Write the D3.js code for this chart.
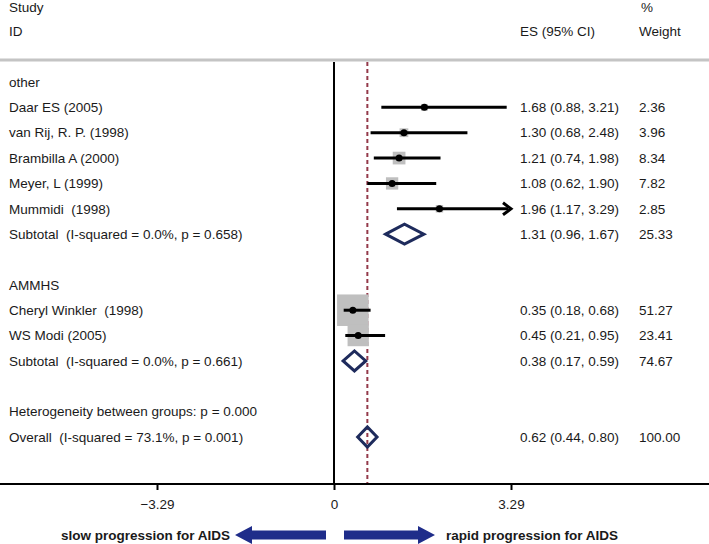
<!DOCTYPE html>
<html>
<head>
<meta charset="utf-8">
<script src="https://cdn.jsdelivr.net/npm/d3@7"></script>
<style>
  body { margin: 0; background: #fff; }
  text { font-family: "Liberation Sans", Arial, sans-serif; fill: #1a1a1a; white-space: pre; }
</style>
</head>
<body>
<script>
// rows of the forest plot, top to bottom (blank rows included)
var labels = ["other", "Daar ES (2005)", "van Rij, R. P. (1998)", "Brambilla A (2000)", "Meyer, L (1999)",
  "Mummidi  (1998)", "Subtotal  (I-squared = 0.0%, p = 0.658)", "",
  "AMMHS", "Cheryl Winkler  (1998)", "WS Modi (2005)", "Subtotal  (I-squared = 0.0%, p = 0.661)", "",
  "Heterogeneity between groups: p = 0.000", "Overall  (I-squared = 73.1%, p = 0.001)"];
var kinds = ["head", "study", "study", "study", "study", "study", "sub", "",
  "head", "study", "study", "sub", "", "head", "sub"];
var es = [null, 1.68, 1.30, 1.21, 1.08, 1.96, 1.31, null, null, 0.35, 0.45, 0.38, null, null, 0.62];
var lo = [null, 0.88, 0.68, 0.74, 0.62, 1.17, 0.96, null, null, 0.18, 0.21, 0.17, null, null, 0.44];
var hi = [null, 3.21, 2.48, 1.98, 1.90, 3.29, 1.67, null, null, 0.68, 0.95, 0.59, null, null, 0.80];
var weights = [null, 2.36, 3.96, 8.34, 7.82, 2.85, 25.33, null, null, 51.27, 23.41, 74.67, null, null, 100.00];
var xTicks = [-3.29, 0, 3.29];
var overall = 0.62;

var W = 709, H = 544;
var svg = d3.select("body").append("svg")
  .attr("width", W)
  .attr("height", H);

var x = d3.scaleLinear().domain([-3.29, 3.29]).range([157, 511]);
var y = d3.scaleLinear().domain([0, 14]).range([82, 437]);
var axisY = 484;
var fs = 13.5;
var f2 = d3.format(".2f");

// header
var hdr = [
  { t: "Study", x: 9, y: 7 }, { t: "ID", x: 9, y: 31 },
  { t: "ES (95% CI)", x: 520, y: 31 },
  { t: "%", x: 641, y: 7 }, { t: "Weight", x: 639, y: 31 }
];
svg.selectAll(".hdr").data(hdr).enter().append("text")
  .attr("class", "hdr")
  .attr("x", d => d.x).attr("y", d => d.y).attr("dy", "0.35em")
  .attr("font-size", fs)
  .text(d => d.t);

svg.append("line")
  .attr("x1", 0).attr("x2", W).attr("y1", 60).attr("y2", 60)
  .attr("stroke", "#c4c4c4").attr("stroke-width", 3);

// null line and overall line
svg.append("line")
  .attr("x1", x(0)).attr("x2", x(0)).attr("y1", 62).attr("y2", axisY)
  .attr("stroke", "#000").attr("stroke-width", 2);
svg.append("line")
  .attr("x1", x(overall)).attr("x2", x(overall)).attr("y1", 62).attr("y2", axisY)
  .attr("stroke", "#93394a").attr("stroke-width", 2)
  .attr("stroke-dasharray", "4,3");

var rows = labels.map((l, i) => ({ i: i, label: l, kind: kinds[i], es: es[i], lo: lo[i], hi: hi[i], w: weights[i] }));

// labels
svg.selectAll(".lab").data(rows.filter(d => d.label)).enter().append("text")
  .attr("class", "lab")
  .attr("x", 9).attr("y", d => y(d.i)).attr("dy", "0.35em")
  .attr("font-size", fs)
  .text(d => d.label);

var vals = rows.filter(d => d.es != null);
svg.selectAll(".es").data(vals).enter().append("text")
  .attr("x", 520).attr("y", d => y(d.i)).attr("dy", "0.35em")
  .attr("font-size", fs)
  .text(d => f2(d.es) + " (" + f2(d.lo) + ", " + f2(d.hi) + ")");
svg.selectAll(".wt").data(vals).enter().append("text")
  .attr("x", 639).attr("y", d => y(d.i)).attr("dy", "0.35em")
  .attr("font-size", fs)
  .text(d => f2(d.w));

// studies: weight boxes, CI lines, points
var studies = rows.filter(d => d.kind == "study");
var side = d => 4.4 * Math.sqrt(d.w);
svg.selectAll(".box").data(studies).enter().append("rect")
  .attr("x", d => x(d.es) - side(d) / 2)
  .attr("y", d => y(d.i) - side(d) / 2)
  .attr("width", side).attr("height", side)
  .attr("fill", "#bfbfbf");

svg.selectAll(".ci").data(studies).enter().append("line")
  .attr("x1", d => x(d.lo))
  .attr("x2", d => d.hi >= 3.29 ? x(3.29) - 3 : x(d.hi))
  .attr("y1", d => y(d.i)).attr("y2", d => y(d.i))
  .attr("stroke", "#000").attr("stroke-width", 3);

svg.selectAll(".arr").data(studies.filter(d => d.hi >= 3.29)).enter().append("path")
  .attr("d", d => {
    var tx = x(3.29), ty = y(d.i);
    return "M" + (tx - 8) + "," + (ty - 6) + "L" + tx + "," + ty + "L" + (tx - 8) + "," + (ty + 6);
  })
  .attr("fill", "none").attr("stroke", "#000").attr("stroke-width", 3);

svg.selectAll(".pt").data(studies).enter().append("circle")
  .attr("cx", d => x(d.es)).attr("cy", d => y(d.i))
  .attr("r", 3.5).attr("fill", "#000");

// pooled diamonds
var subs = rows.filter(d => d.kind == "sub");
svg.selectAll(".dia").data(subs).enter().append("path")
  .attr("d", d => {
    var cy = y(d.i), h = 10;
    return "M" + x(d.lo) + "," + cy + "L" + x(d.es) + "," + (cy - h) +
      "L" + x(d.hi) + "," + cy + "L" + x(d.es) + "," + (cy + h) + "Z";
  })
  .attr("fill", "none").attr("stroke", "#1e2b5c").attr("stroke-width", 3)
  .attr("stroke-linejoin", "miter");

// x axis
svg.append("line")
  .attr("x1", 0).attr("x2", W).attr("y1", axisY).attr("y2", axisY)
  .attr("stroke", "#000").attr("stroke-width", 2);
var ax = svg.append("g")
  .attr("transform", `translate(0,${axisY})`)
  .call(d3.axisBottom(x).tickValues(xTicks).tickSize(6).tickPadding(9)
    .tickFormat(d => d == 0 ? "0" : f2(d)));
ax.select(".domain").remove();
ax.selectAll(".tick line").attr("stroke", "#000").attr("stroke-width", 2);
ax.selectAll(".tick text")
  .attr("font-size", fs).attr("fill", "#1a1a1a")
  .style("font-family", '"Liberation Sans", Arial, sans-serif');

// direction arrows
var ay = 535;
function blockArrow(x0, x1) {
  var dir = x1 > x0 ? 1 : -1, hl = 17, bw = 4.5, hw = 9;
  var xb = x1 - dir * hl;
  return "M" + x0 + "," + (ay - bw) + "L" + xb + "," + (ay - bw) + "L" + xb + "," + (ay - hw) +
    "L" + x1 + "," + ay + "L" + xb + "," + (ay + hw) + "L" + xb + "," + (ay + bw) +
    "L" + x0 + "," + (ay + bw) + "Z";
}
svg.append("path").attr("d", blockArrow(326, 235)).attr("fill", "#1f2d8a");
svg.append("path").attr("d", blockArrow(344, 435)).attr("fill", "#1f2d8a");
svg.append("text")
  .attr("x", 230).attr("y", ay).attr("dy", "0.35em")
  .attr("text-anchor", "end").attr("font-size", fs).attr("font-weight", "bold")
  .text("slow progression for AIDS");
svg.append("text")
  .attr("x", 446).attr("y", ay).attr("dy", "0.35em")
  .attr("font-size", fs).attr("font-weight", "bold")
  .text("rapid progression for AIDS");
</script>
</body>
</html>
